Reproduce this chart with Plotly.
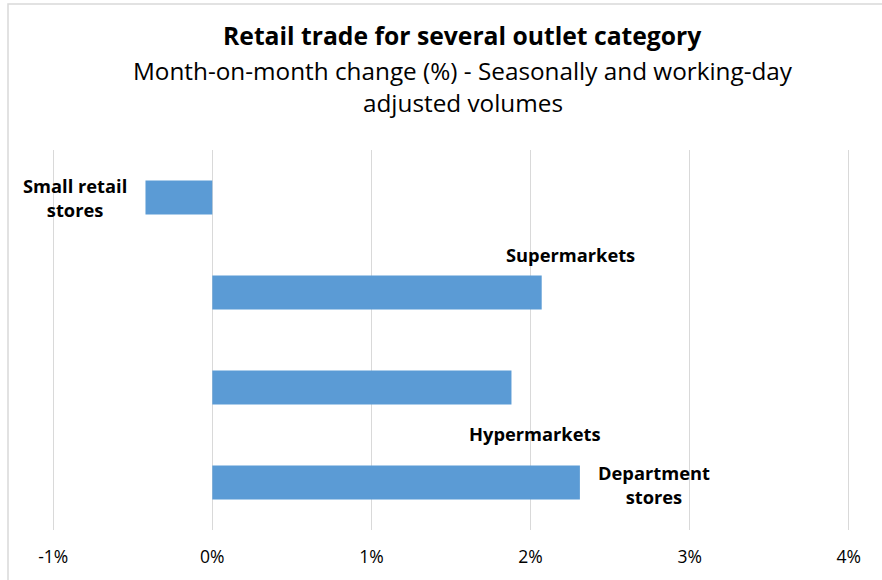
import plotly.graph_objects as go

categories = ["Small retail stores", "Supermarkets", "Hypermarkets", "Department stores"]
label_texts = ["Small retail<br>stores", "Supermarkets", "Hypermarkets", "Department<br>stores"]
values = [-0.42, 2.07, 1.88, 2.31]
tick_vals = [-1, 0, 1, 2, 3, 4]
tick_text = ["-1%", "0%", "1%", "2%", "3%", "4%"]

BAR = "#5B9BD5"
GRID = "#D9D9D9"
FONT = "Open Sans"

L, R, T, B = 50, 30, 150, 50
PW, PH = 882 - L - R, 580 - T - B
TITLE_X = (463 - L) / PW

fig = go.Figure()
fig.add_trace(go.Bar(
    y=categories, x=values, orientation="h",
    marker=dict(color=BAR, line=dict(width=0)),
    hoverinfo="skip",
))

# label placement (label anchor, shifts in px)
placements = [
    dict(xanchor="right", xshift=-16, yshift=0),
    dict(xanchor="center", xshift=29, yshift=38),
    dict(xanchor="center", xshift=24, yshift=-46),
    dict(xanchor="left", xshift=16, yshift=-2),
]
for cat, txt, v, p in zip(categories, label_texts, values, placements):
    fig.add_annotation(
        x=v, y=cat, xref="x", yref="y", text=txt, showarrow=False,
        xanchor=p["xanchor"], yanchor="middle", xshift=p["xshift"], yshift=p["yshift"],
        align="center", font=dict(family=FONT, size=18.3, color="#000000", weight="bold"),
    )

# Title and subtitle
fig.add_annotation(
    x=TITLE_X, y=1.0, xref="paper", yref="paper", yanchor="middle",
    xanchor="center", showarrow=False,
    text="<b>Retail trade for several outlet category</b>",
    font=dict(family=FONT, size=24.7, color="#000000"), yshift=115,
)
fig.add_annotation(
    x=TITLE_X, y=1.0, xref="paper", yref="paper", yanchor="middle",
    xanchor="center", showarrow=False,
    text="Month-on-month change (%) - Seasonally and working-day",
    font=dict(family=FONT, size=24.3, color="#000000"), yshift=80,
)
fig.add_annotation(
    x=TITLE_X, y=1.0, xref="paper", yref="paper", yanchor="middle",
    xanchor="center", showarrow=False,
    text="adjusted volumes",
    font=dict(family=FONT, size=24.3, color="#000000"), yshift=48,
)

# chart border
fig.add_shape(type="rect", xref="paper", yref="paper",
              x0=(8 - L) / PW, x1=(930 - L) / PW,
              y0=(580 - T - B - (600 - T)) / PH, y1=1 + (T - 4) / PH,
              line=dict(color=GRID, width=1.5), fillcolor="rgba(0,0,0,0)", layer="below")

fig.update_layout(
    width=882, height=580,
    margin=dict(l=L, r=R, t=T, b=B, autoexpand=False),
    paper_bgcolor="white", plot_bgcolor="white",
    showlegend=False, bargap=0.64,
    font=dict(family=FONT, color="#000000"),
)
fig.update_xaxes(
    range=[-1.02, 4.02], tickvals=tick_vals, ticktext=tick_text,
    showgrid=True, gridcolor=GRID, gridwidth=1.3, zeroline=False,
    showline=False, ticks="outside", ticklen=11, tickcolor="rgba(0,0,0,0)",
    tickfont=dict(family=FONT, size=17.5, color="#000000"), automargin=False,
)
fig.update_yaxes(
    categoryorder="array", categoryarray=categories, autorange="reversed",
    showticklabels=False, showgrid=False, zeroline=False, showline=False,
    automargin=False,
)

fig.write_html("out.html")
